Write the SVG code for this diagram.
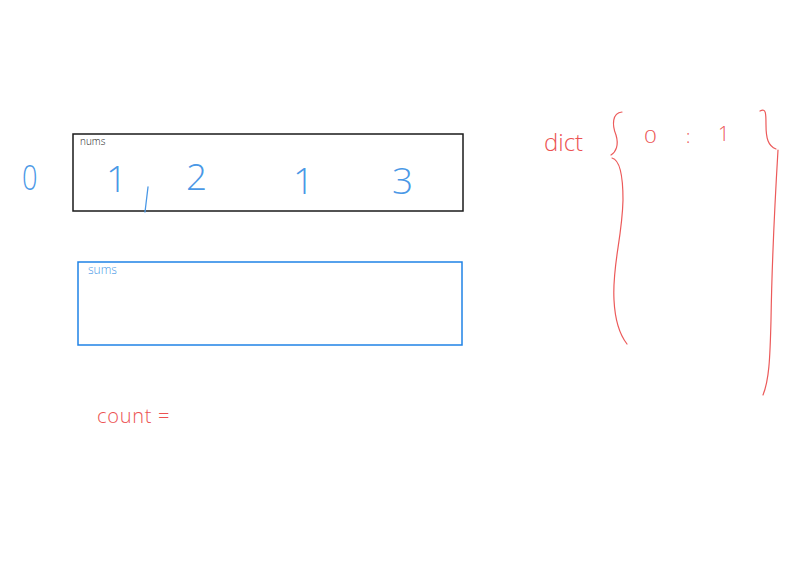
<svg xmlns="http://www.w3.org/2000/svg" width="802" height="580" viewBox="0 0 802 580">
<style>
.blue{fill:#4a98e6;font-family:"Open Sans","Noto Sans",sans-serif;font-weight:300;}
.red{fill:#ec5252;font-family:"Open Sans","Noto Sans",sans-serif;font-weight:300;}
.rs{fill:none;stroke:#ec5a5a;stroke-width:1.2;stroke-linecap:round;}
.bs{fill:none;stroke:#4a98e6;stroke-width:1.3;stroke-linecap:round;}
</style>
<rect width="802" height="580" fill="#ffffff"/>
<g id="zero"><text class="blue" x="22" y="190" font-size="34" transform="translate(22 0) scale(0.8 1) translate(-22 0)">0</text></g>
<g id="nums">
<rect x="73" y="134" width="390" height="77" fill="none" stroke="#1a1a1a" stroke-width="1.5"/>
<text x="80" y="145" font-size="10" font-family="Open Sans,sans-serif" font-weight="300" fill="#222">nums</text>
<text class="blue" x="106" y="192" font-size="37">1</text>
<text class="blue" x="186" y="190" font-size="37">2</text>
<text class="blue" x="293" y="194" font-size="37">1</text>
<text class="blue" x="392" y="194" font-size="37">3</text>
</g>
<g id="connectors">
<path class="bs" d="M148 187 L145 212"/>
</g>
<g id="sums">
<rect x="78" y="262" width="384" height="83" fill="none" stroke="#1f82e6" stroke-width="1.5"/>
<text class="blue" x="88" y="274" font-size="12">sums</text>
</g>
<g id="count"><text class="red" x="97" y="423" font-size="20" letter-spacing="0.7">count =</text></g>
<g id="dict">
<text class="red" x="544" y="151" font-size="24">dict</text>
<path class="rs" d="M622 112 C612 113 612 125 616 135 C619 145 616 152 611 155"/>
<path class="rs" d="M612 158 C620 160 623 175 623 200 C622 240 612 265 614 300 C615 320 620 335 627 344"/>
<text class="red" x="644" y="143" font-size="18" transform="translate(644 0) scale(1.25 1) translate(-644 0)">0</text>
<text class="red" x="686" y="143" font-size="18">:</text>
<text class="red" x="718" y="141" font-size="20">1</text>
<path class="rs" d="M760 111 C766 108 766 113 766 125 C766 138 768 146 776 149"/>
<path class="rs" d="M778 150 C775 200 772 260 771 320 C770 360 769 380 763 395"/>
</g>
</svg>
